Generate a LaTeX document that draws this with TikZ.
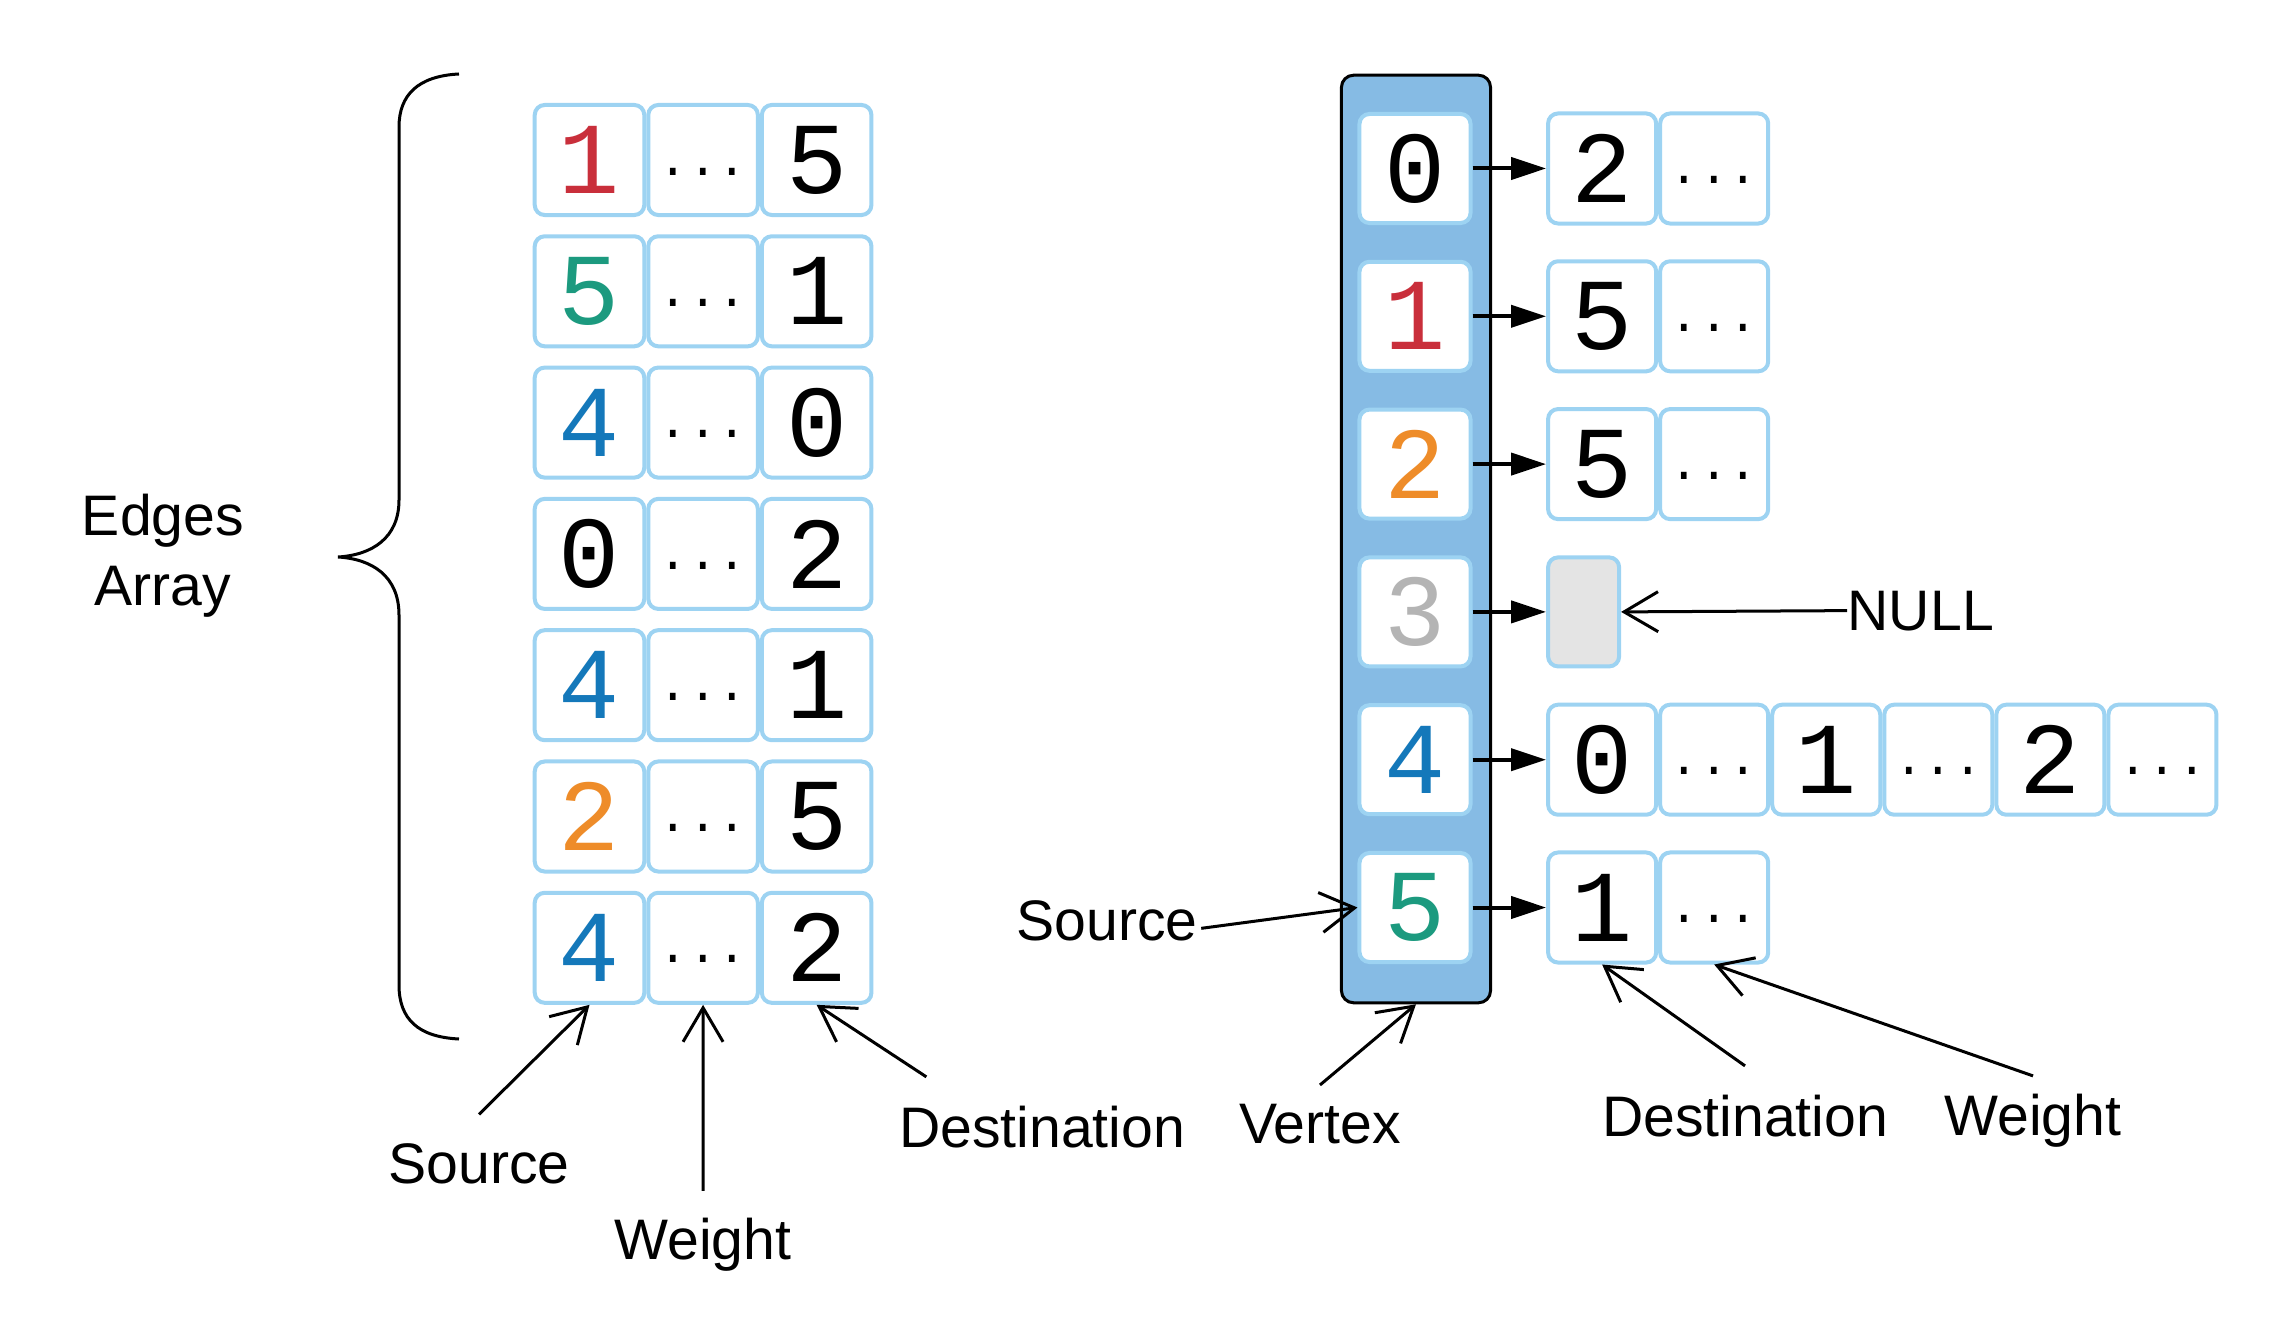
\documentclass[tikz,border=0pt]{standalone}
\usepackage{fontspec}
\usepackage{tikz}
\usetikzlibrary{positioning,arrows.meta}
\newfontfamily\digitfam{Liberation Mono}
\newfontfamily\labelfam{Liberation Sans}
\newcommand{\digitfont}{\digitfam\fontsize{29}{30}\selectfont}
\newcommand{\dotfont}{\digitfam\fontsize{14}{15}\selectfont}
\newcommand{\labelfont}{\labelfam\fontsize{16.25}{19.9}\selectfont}
\definecolor{cellblue}{HTML}{9DD3F2}
\definecolor{colblue}{HTML}{86BBE4}
\definecolor{nred}{HTML}{C92F3B}
\definecolor{nteal}{HTML}{1C9A7F}
\definecolor{nblue}{HTML}{1478BA}
\definecolor{norange}{HTML}{EE8C29}
\definecolor{ngray}{HTML}{B4B4B4}
\definecolor{nullgray}{HTML}{E4E4E4}
\tikzstyle{cell} = [rectangle, rounded corners=0.1cm, minimum width=1.095cm, minimum height=1.1cm, inner sep=0pt, draw=cellblue, line width=0.04cm, fill=white, font=\digitfont]
\tikzstyle{etccell} = [cell, label={[font=\dotfont, inner sep=0pt, yshift=-0.115cm]center:...}]
\tikzstyle{slot} = [cell, minimum width=1.08cm]
\tikzstyle{vcell} = [cell, minimum width=1.11cm, minimum height=1.09cm]
\tikzstyle{vertexbox} = [rectangle, rounded corners=0.12cm, minimum width=1.49cm, minimum height=9.27cm, draw=black, line width=0.03cm, fill=colblue]
\tikzstyle{tag} = [inner sep=0pt, font=\labelfont]
\tikzstyle{notearrow} = [line width=0.03cm, -{Straight Barb[length=0.34cm,width=0.4cm]}]
\tikzstyle{linkarrow} = [line width=0.04cm, -{Triangle[length=0.35cm,width=0.22cm]}]

\begin{document}
\begin{tikzpicture}[x=0.01cm, y=-0.01cm]
\useasboundingbox (0,0) rectangle (2291,1343);

% edges array
\foreach \s/\c/\t [count=\i] in {1/nred/5, 5/nteal/1, 4/nblue/0, 0/black/2, 4/nblue/1, 2/norange/5, 4/nblue/2}
{
  \node (src\i) [cell, text=\c] at (589.5, {160+131.3*(\i-1)}) {\s};
  \node (wt\i) [etccell, right=0pt of src\i] {};
  \node (dst\i) [cell, right=0pt of wt\i] {\t};
}
\draw [line width=0.03cm] (459,74) .. controls (418,76) and (399,95) .. (399,127) -- (399,500)
  .. controls (399,538) and (372,555) .. (338,557) .. controls (372,559) and (399,576) .. (399,615)
  -- (399,985) .. controls (399,1019) and (418,1037) .. (459,1039);
\node (edges) [tag, align=center] at (163,556) {Edges\\Array};

\node (srcL) [tag, anchor=base] at (479,1183) {Source};
\node (wtL) [tag, anchor=base] at (703,1259) {Weight};
\node (dstL) [tag, anchor=base] at (1042,1147) {Destination};
\coordinate (srcLtail) at ([yshift=0.28cm]srcL.north);
\coordinate (wtLtail) at ([yshift=0.26cm]wtL.north);
\coordinate (dstLtail) at ([xshift=0.28cm, yshift=0.28cm]dstL.north west);
\draw [notearrow] (srcLtail) -- (src7.south);
\draw [notearrow] (wtLtail) -- (wt7.south);
\draw [notearrow] (dstLtail) -- (dst7.south);

% adjacency list
\node (vtx) [vertexbox] at (1416,539) {};
\foreach \d/\c in {0/black, 1/nred, 2/norange, 3/ngray, 4/nblue, 5/nteal}
  \node (v\d) [vcell, text=\c] at (1415, {168.5+147.8*\d}) {\d};

\node (r0a) [slot, right=0.735cm of v0] {2};
\node (r0b) [etccell, slot, right=0pt of r0a] {};
\node (r1a) [slot, right=0.735cm of v1] {5};
\node (r1b) [etccell, slot, right=0pt of r1a] {};
\node (r2a) [slot, right=0.735cm of v2] {5};
\node (r2b) [etccell, slot, right=0pt of r2a] {};
\node (r3a) [cell, fill=nullgray, minimum width=0.71cm, minimum height=1.09cm, right=0.735cm of v3] {};
\node (r4a) [slot, right=0.735cm of v4] {0};
\node (r4b) [etccell, slot, right=0pt of r4a] {};
\node (r4c) [slot, right=0pt of r4b] {1};
\node (r4d) [etccell, slot, right=0pt of r4c] {};
\node (r4e) [slot, right=0pt of r4d] {2};
\node (r4f) [etccell, slot, right=0pt of r4e] {};
\node (r5a) [slot, right=0.735cm of v5] {1};
\node (r5b) [etccell, slot, right=0pt of r5a] {};
\foreach \i in {0,...,5}
  \draw [linkarrow] (v\i) -- (r\i a);

\node (nullL) [tag, anchor=base west] at (1847,630) {NULL};
\draw [notearrow] (nullL.west) -- (r3a.east);

\node (srcR) [tag, anchor=base] at (1107,940) {Source};
\node (vtxL) [tag, anchor=base] at (1320,1143) {Vertex};
\node (dstR) [tag, anchor=base] at (1745,1136) {Destination};
\node (wtR) [tag, anchor=base] at (2033,1135) {Weight};
\coordinate (srcRtail) at ([xshift=0.03cm, yshift=-0.08cm]srcR.east);
\coordinate (vtxLtail) at ([yshift=0.18cm]vtxL.north);
\coordinate (dstRtail) at ([yshift=0.28cm]dstR.north);
\coordinate (wtRtail) at ([yshift=0.17cm]wtR.north);
\draw [notearrow] (srcRtail) -- (v5.west);
\draw [notearrow] (vtxLtail) -- (vtx.south);
\draw [notearrow] (dstRtail) -- (r5a.south);
\draw [notearrow] (wtRtail) -- (r5b.south);

\end{tikzpicture}
\end{document}
